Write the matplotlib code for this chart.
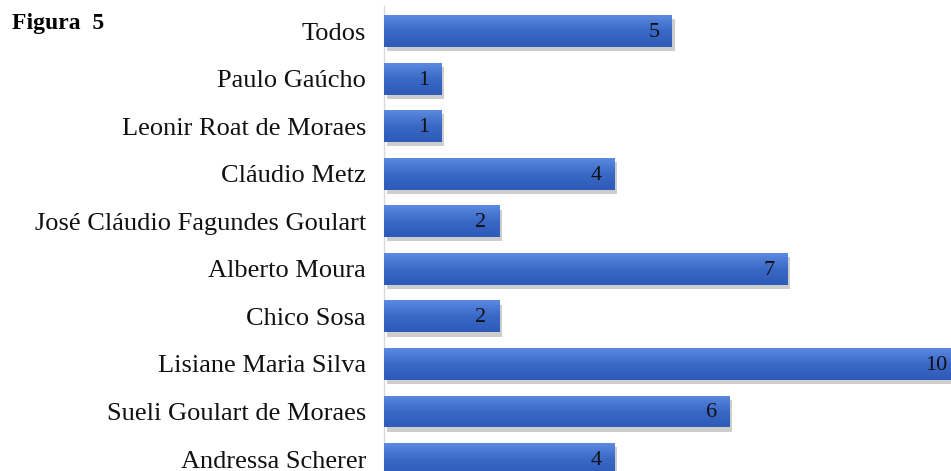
import numpy as np
import matplotlib.pyplot as plt
from matplotlib import patheffects as pe

# dados do gráfico
nomes = ["Todos", "Paulo Gaúcho", "Leonir Roat de Moraes", "Cláudio Metz",
         "José Cláudio Fagundes Goulart", "Alberto Moura", "Chico Sosa",
         "Lisiane Maria Silva", "Sueli Goulart de Moraes", "Andressa Scherer"]
valores = [5, 1, 1, 4, 2, 7, 2, 10, 6, 4]

plt.rcParams["font.family"] = ["Liberation Serif", "DejaVu Serif"]

fig = plt.figure(figsize=(9.51, 4.71), dpi=100)
ax = fig.add_axes([384 / 951, 0.0, 567 / 951, 465 / 471])

pos = np.arange(len(nomes))
barras = ax.barh(pos, valores, height=0.67, color="#4472c4", zorder=2)

# degradê vertical nas barras
grad = np.linspace(0, 1, 64).reshape(-1, 1)
cmap = plt.matplotlib.colors.LinearSegmentedColormap.from_list("azul", ["#5b8ae0", "#3a68c6", "#2e5bb8"])
for b, v in zip(barras, valores):
    b.set_path_effects([pe.SimplePatchShadow(offset=(2, -3), shadow_rgbFace="#909090", alpha=0.45), pe.Normal()])
    y0 = b.get_y()
    im = ax.imshow(grad, cmap=cmap, aspect="auto", zorder=3,
                   extent=(0, v, y0 + b.get_height(), y0), interpolation="bicubic")
    im.set_clip_path(b)
    ax.text(v - 0.22, y0 + b.get_height() / 2 + 0.03, str(v), ha="right", va="center",
            fontsize=16, color="#111111", zorder=4)

ax.set_xlim(0, 567 / 57.6)
ax.set_ylim(9.25, -0.526)
ax.set_yticks(pos)
ax.set_yticklabels(nomes, fontsize=19, color="#111111")
ax.tick_params(axis="y", length=0, pad=13)
ax.set_xticks([])
for lado in ["top", "right", "bottom"]:
    ax.spines[lado].set_visible(False)
ax.spines["left"].set_color("#d9d9d9")
ax.spines["left"].set_linewidth(1.0)

fig.text(12 / 951, 1 - 24 / 471, "Figura  5", fontsize=17, fontweight="bold", va="center", ha="left")

plt.savefig("out.png", dpi=100)
